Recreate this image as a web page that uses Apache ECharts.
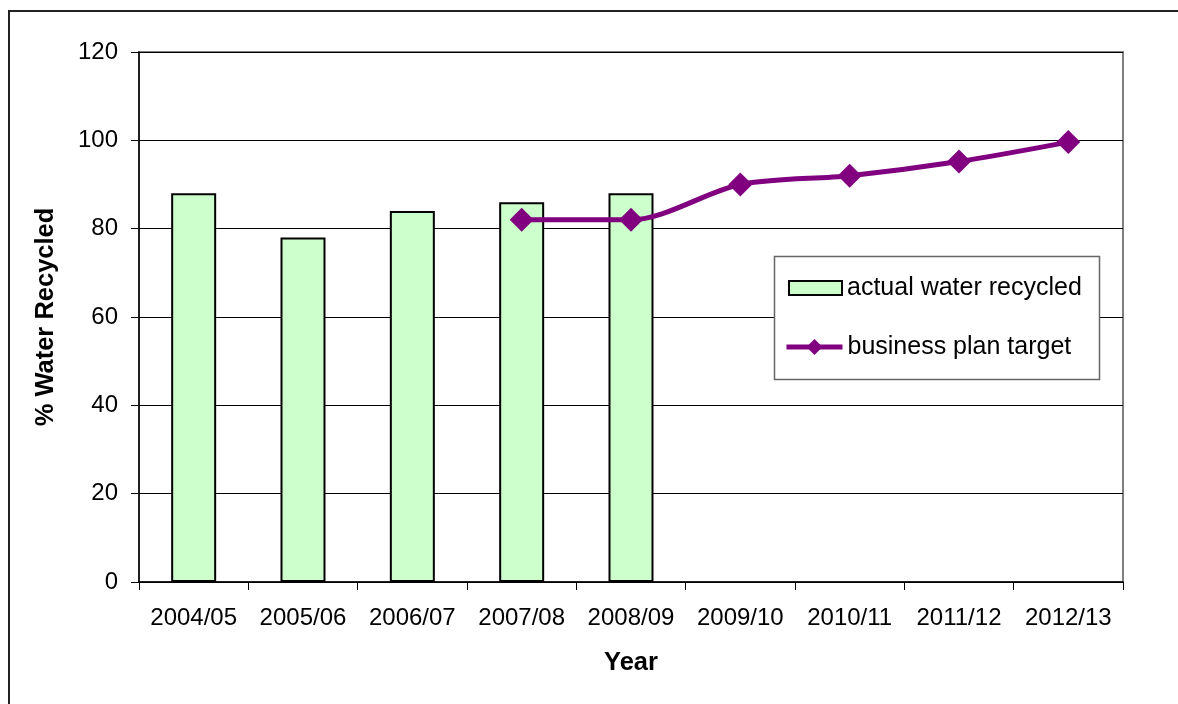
<!DOCTYPE html>
<html>
<head>
<meta charset="utf-8">
<script src="https://cdn.jsdelivr.net/npm/echarts@6/dist/echarts.min.js"></script>
<style>html,body{margin:0;padding:0;background:#fff;}#c{width:1178px;height:704px;}</style>
</head>
<body>
<div id="c"></div>
<script>
const categories = ['2004/05','2005/06','2006/07','2007/08','2008/09','2009/10','2010/11','2011/12','2012/13'];
const actualRecycled = [88, 78, 84, 86, 88, null, null, null, null];
const planTarget = [null, null, null, 82, 82, 90, 92, 95.2, 99.6];
const yTicks = [0, 20, 40, 60, 80, 100, 120];
const seriesNames = ['actual water recycled', 'business plan target'];

const FONT = '"Liberation Sans", Arial, sans-serif';
const chart = echarts.init(document.getElementById('c'), null, {renderer: 'canvas'});
chart.setOption({
  backgroundColor: '#ffffff',
  animation: false,
  graphic: [
    {
      type: 'rect', z: 100, silent: true,
      shape: {x: 9, y: 11, width: 1300, height: 900},
      style: {fill: 'none', stroke: '#222', lineWidth: 2}
    },
    {
      type: 'rect', z: 3, silent: true,
      shape: {x: 774.5, y: 256.5, width: 325, height: 123},
      style: {fill: '#fff', stroke: '#666', lineWidth: 1.5}
    }
  ],
  grid: {left: 139, right: 55, top: 52, bottom: 122, show: true, borderColor: '#808080', borderWidth: 2, backgroundColor: 'transparent'},
  legend: [
    {
      left: 788, top: 275, padding: 0, z: 5,
      itemWidth: 53, itemHeight: 14,
      textStyle: {fontFamily: FONT, fontSize: 25, color: '#000', lineHeight: 26},
      data: [{name: seriesNames[0], icon: 'rect', itemStyle: {color: '#CCFFCC', borderColor: '#000', borderWidth: 2}}]
    },
    {
      left: 784, top: 334, padding: 0, z: 5,
      itemWidth: 56, itemHeight: 20,
      textStyle: {fontFamily: FONT, fontSize: 25, color: '#000', lineHeight: 26},
      data: [{name: seriesNames[1], lineStyle: {color: '#800080', width: 5}, itemStyle: {color: '#800080'}}]
    }
  ],
  xAxis: {
    type: 'category', data: categories,
    name: 'Year', nameLocation: 'middle', nameGap: 68,
    nameTextStyle: {fontFamily: FONT, fontSize: 25.5, fontWeight: 'bold', color: '#000'},
    axisLine: {lineStyle: {color: '#000', width: 1.5}},
    axisTick: {show: true, interval: 0, length: 8, lineStyle: {color: '#000'}},
    axisLabel: {fontFamily: FONT, fontSize: 24, color: '#000', margin: 24, interval: 0, hideOverlap: false},
    splitLine: {show: false}
  },
  yAxis: {
    type: 'value', min: 0, max: 120, interval: 20,
    name: '% Water Recycled', nameLocation: 'middle', nameGap: 80,
    nameTextStyle: {fontFamily: FONT, fontSize: 25.5, fontWeight: 'bold', color: '#000'},
    axisLine: {show: true, lineStyle: {color: '#000', width: 1.5}},
    axisTick: {show: true, length: 8, lineStyle: {color: '#000'}},
    axisLabel: {fontFamily: FONT, fontSize: 24, color: '#000', margin: 21,
      formatter: v => yTicks.includes(v) ? String(v) : ''},
    splitLine: {show: true, lineStyle: {color: '#000', width: 1}}
  },
  series: [
    {
      name: seriesNames[0], type: 'bar', data: actualRecycled, barWidth: 45,
      itemStyle: {color: '#CCFFCC', borderColor: '#000', borderWidth: 2}
    },
    {
      name: seriesNames[1], type: 'line', data: planTarget, smooth: 0.3,
      connectNulls: false, z: 4,
      symbol: 'diamond', symbolSize: 24, showSymbol: true,
      lineStyle: {color: '#800080', width: 5},
      itemStyle: {color: '#800080'}
    }
  ]
});
</script>
</body>
</html>
